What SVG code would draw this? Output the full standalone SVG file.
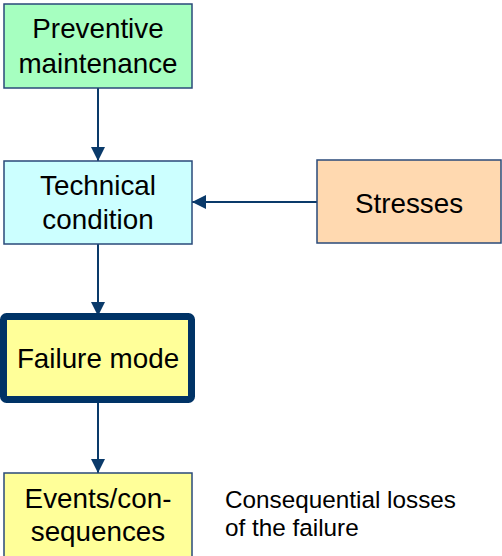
<svg xmlns="http://www.w3.org/2000/svg" width="502" height="556" viewBox="0 0 502 556">
<style>
.box{stroke:#2a4a7a;stroke-width:1.5}
.t{font-family:"Liberation Sans",Arial,sans-serif;font-size:27.8px;fill:#000;text-anchor:middle}
.c{stroke:#0a3a6a;stroke-width:2;fill:none}
.lbl{font-family:"Liberation Sans",Arial,sans-serif;font-size:24.3px;fill:#000}
</style>
<defs>
<marker id="ah" viewBox="0 0 14 14" refX="14" refY="7" markerWidth="14" markerHeight="14" markerUnits="userSpaceOnUse" orient="auto">
<path d="M0,0 L14,7 L0,14 Z" fill="#0a3a6a"/>
</marker>
</defs>
<g id="connectors">
<line class="c" x1="98" y1="88" x2="98" y2="161" marker-end="url(#ah)"/>
<line class="c" x1="317" y1="202" x2="192" y2="202" marker-end="url(#ah)"/>
<line class="c" x1="98" y1="244" x2="98" y2="316" marker-end="url(#ah)"/>
<line class="c" x1="98" y1="403" x2="98" y2="473" marker-end="url(#ah)"/>
</g>
<g id="preventive">
<rect class="box" x="4" y="4" width="188" height="84" fill="#a6ffc0"/>
<text class="t" x="98" y="38">Preventive</text>
<text class="t" x="98" y="73">maintenance</text>
</g>
<g id="technical">
<rect class="box" x="4" y="161" width="188" height="83" fill="#ccffff"/>
<text class="t" x="98" y="195">Technical</text>
<text class="t" x="98" y="229">condition</text>
</g>
<g id="stresses">
<rect class="box" x="317" y="160" width="184" height="83" fill="#ffd9b0"/>
<text class="t" x="409" y="213">Stresses</text>
</g>
<g id="failure">
<rect x="3.5" y="316.5" width="188" height="83" rx="3" fill="#ffff99" stroke="#003366" stroke-width="7"/>
<text class="t" x="98" y="368">Failure mode</text>
</g>
<g id="events">
<rect class="box" x="4" y="473" width="188" height="90" fill="#ffff99"/>
<text class="t" x="98" y="508">Events/con-</text>
<text class="t" x="98" y="541">sequences</text>
</g>
<g id="losses">
<text class="lbl" x="225" y="508">Consequential losses</text>
<text class="lbl" x="225" y="536">of the failure</text>
</g>
</svg>
